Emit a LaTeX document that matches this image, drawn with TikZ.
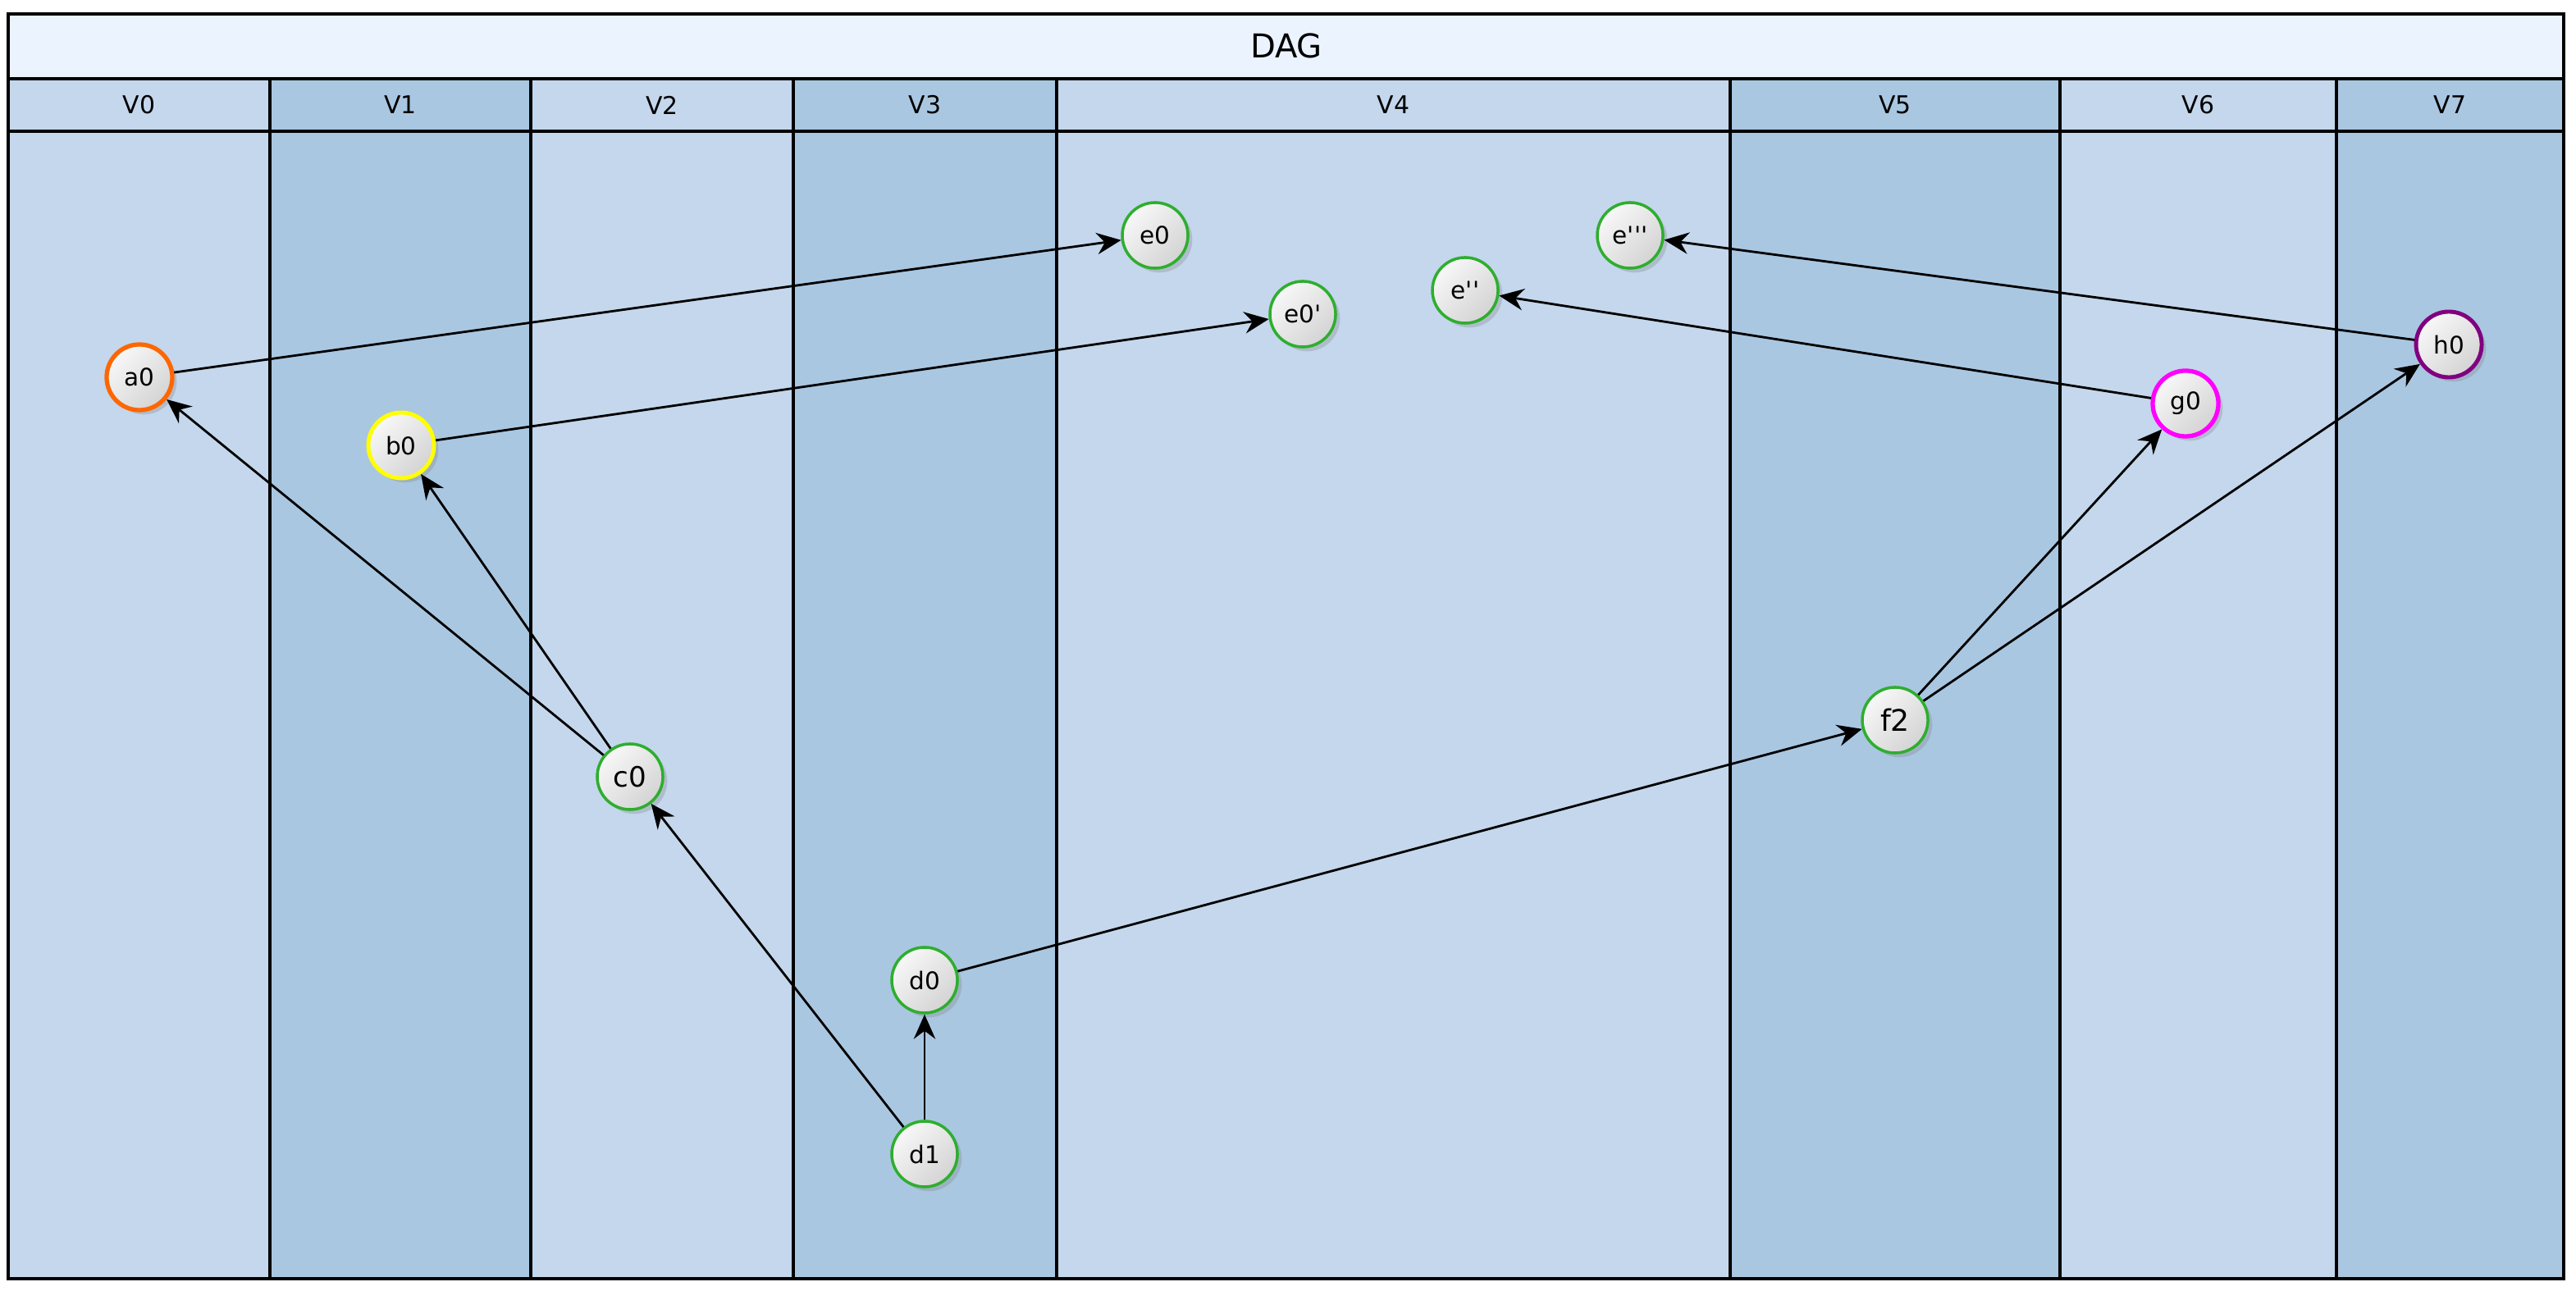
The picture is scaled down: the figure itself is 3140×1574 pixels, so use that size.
\documentclass[tikz,border=0pt]{standalone}
\usepackage{fontspec}
\setmainfont{DejaVu Sans}
\usetikzlibrary{arrows.meta,shadows}

\definecolor{lanelight}{RGB}{196,215,236}
\definecolor{lanedark}{RGB}{170,199,225}
\definecolor{titlefill}{RGB}{235,243,254}
\definecolor{rimgreen}{RGB}{46,174,46}
\definecolor{rimorange}{RGB}{255,102,0}
\definecolor{rimyellow}{RGB}{255,255,0}
\definecolor{rimmagenta}{RGB}{255,0,255}
\definecolor{rimpurple}{RGB}{128,0,128}

\begin{document}
\begin{tikzpicture}[x=0.01cm,y=-0.01cm]

\tikzset{lane/.style = {draw,line width=0.9pt}}
\tikzset{vertex/.style = {shape=circle,draw=rimgreen,line width=1pt,minimum size=0.8cm,inner sep=0pt,
  top color=white!94!gray,bottom color=gray!34,shading angle=45,
  drop shadow={shadow xshift=1.5pt,shadow yshift=-1.5pt,opacity=0.3},
  font=\fontsize{8.4}{10}\selectfont}}
\tikzset{edge/.style = {-{Stealth[length=8.5pt,width=7.5pt,inset=2.8pt]},line width=0.8pt}}

\useasboundingbox (0,0) rectangle (3140,1574);

% lanes
\draw[lane,fill=lanelight] (10,160) rectangle (329,1559);
\draw[lane,fill=lanedark]  (329,160) rectangle (647,1559);
\draw[lane,fill=lanelight] (647,160) rectangle (967,1559);
\draw[lane,fill=lanedark]  (967,160) rectangle (1288,1559);
\draw[lane,fill=lanelight] (1288,160) rectangle (2109,1559);
\draw[lane,fill=lanedark]  (2109,160) rectangle (2511,1559);
\draw[lane,fill=lanelight] (2511,160) rectangle (2848,1559);
\draw[lane,fill=lanedark]  (2848,160) rectangle (3125,1559);

% header
\draw[lane,fill=titlefill] (10,17) rectangle (3125,96);
\node[font=\fontsize{11.4}{13}\selectfont] (title) at (1568,56) {DAG};

\draw[lane,fill=lanelight] (10,96) rectangle (329,160);
\draw[lane,fill=lanedark]  (329,96) rectangle (647,160);
\draw[lane,fill=lanelight] (647,96) rectangle (967,160);
\draw[lane,fill=lanedark]  (967,96) rectangle (1288,160);
\draw[lane,fill=lanelight] (1288,96) rectangle (2109,160);
\draw[lane,fill=lanedark]  (2109,96) rectangle (2511,160);
\draw[lane,fill=lanelight] (2511,96) rectangle (2848,160);
\draw[lane,fill=lanedark]  (2848,96) rectangle (3125,160);

\tikzset{lanelabel/.style = {font=\fontsize{8.5}{10}\selectfont}}
\node[lanelabel] (v0) at (169.5,128) {V0};
\node[lanelabel] (v1) at (488,128) {V1};
\node[lanelabel] (v2) at (807,128) {V2};
\node[lanelabel] (v3) at (1127.5,128) {V3};
\node[lanelabel] (v4) at (1698.5,128) {V4};
\node[lanelabel] (v5) at (2310,128) {V5};
\node[lanelabel] (v6) at (2679.5,128) {V6};
\node[lanelabel] (v7) at (2986.5,128) {V7};

% vertices
\node[vertex,draw=rimorange,line width=1.5pt] (a0) at (170,460) {a0};
\node[vertex,draw=rimyellow,line width=1.4pt] (b0) at (489,543) {b0};
\node[vertex,font=\fontsize{9.7}{11}\selectfont] (c0) at (768,947) {c0};
\node[vertex] (d0) at (1127,1195) {d0};
\node[vertex] (d1) at (1127,1407) {d1};
\node[vertex] (e0) at (1408,287) {e0};
\node[vertex] (e0p) at (1588,383) {e0\textquotesingle};
\node[vertex] (e2) at (1786,354) {e\textquotesingle\textquotesingle};
\node[vertex] (e3) at (1987,287) {e\textquotesingle\textquotesingle\textquotesingle};
\node[vertex,font=\fontsize{10.3}{12}\selectfont] (f2) at (2310,878) {f2};
\node[vertex,draw=rimmagenta,line width=1.5pt] (g0) at (2664,492) {g0};
\node[vertex,draw=rimpurple,line width=1.4pt] (h0) at (2985,420) {h0};

% edges
\draw[edge] (a0) to (e0);
\draw[edge] (b0) to (e0p);
\draw[edge] (c0) to (a0);
\draw[edge] (c0) to (b0);
\draw[edge] (d1) to (c0);
\draw[edge] (d1) to (d0);
\draw[edge] (d0) to (f2);
\draw[edge] (f2) to (g0);
\draw[edge] (f2) to (h0);
\draw[edge] (g0) to (e2);
\draw[edge] (h0) to (e3);

\end{tikzpicture}
\end{document}
